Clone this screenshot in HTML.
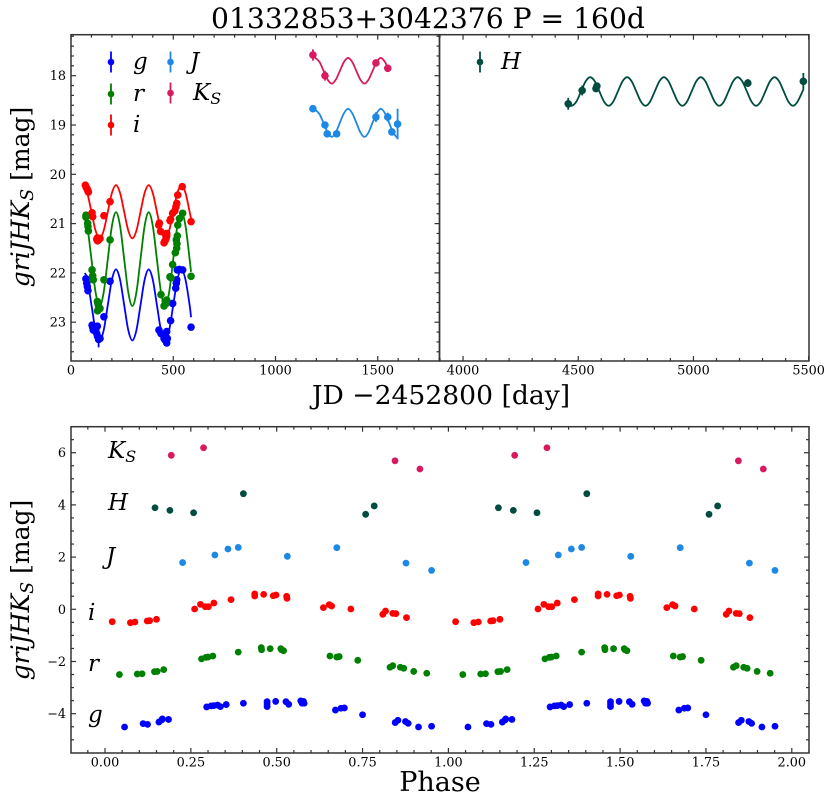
<!DOCTYPE html>
<html>
<head>
<meta charset="utf-8">
<style>
html,body{margin:0;padding:0;background:#fff;}
svg{display:block;}
text{font-family:"DejaVu Serif","Liberation Serif",serif;fill:#000;}
.i{font-style:italic;}
</style>
</head>
<body>
<svg id="fig" width="831" height="803" viewBox="0 0 831 803" xmlns="http://www.w3.org/2000/svg">
<text x="428" y="28" font-size="28.2" text-anchor="middle">01332853+3042376 P = 160d</text>
<text x="441" y="404" font-size="26.6" text-anchor="middle">JD −2452800 [day]</text>
<text x="440" y="791" font-size="27" text-anchor="middle">Phase</text>
<text transform="translate(29,197) rotate(-90)" font-size="25" text-anchor="middle"><tspan class="i">griJHK</tspan><tspan class="i" font-size="17.5" dy="4">S</tspan><tspan dy="-4"> [mag]</tspan></text>
<text transform="translate(29,590) rotate(-90)" font-size="25" text-anchor="middle"><tspan class="i">griJHK</tspan><tspan class="i" font-size="17.5" dy="4">S</tspan><tspan dy="-4"> [mag]</tspan></text>

<text class="i" x="133" y="69" font-size="23">g</text>
<text class="i" x="133" y="101" font-size="23">r</text>
<text class="i" x="133" y="132" font-size="23">i</text>
<text class="i" x="190" y="69" font-size="23">J</text>
<text class="i" x="193" y="100" font-size="23">K<tspan font-size="16" dy="4">S</tspan></text>
<text class="i" x="501" y="69" font-size="23">H</text>

<text class="i" x="108" y="458" font-size="23">K<tspan font-size="16" dy="4">S</tspan></text>
<text class="i" x="108" y="510" font-size="23">H</text>
<text class="i" x="106" y="564" font-size="23">J</text>
<text class="i" x="88" y="620" font-size="23">i</text>
<text class="i" x="88" y="671" font-size="23">r</text>
<text class="i" x="88" y="722" font-size="23">g</text>
</svg>
<script>
// ---------- light-curve observations (day, magnitude, error) ----------
const gDays = [73,77,80,83,103,106,109,114,121,129,126,130,135,142,161,191,430,440,451,455,460,468,471,468,463,487,497,512,515,517,520,530,546,587];
const gMags = [22.12,22.21,22.28,22.36,23.06,23.10,23.16,23.09,23.15,23.08,23.23,23.29,23.35,23.33,22.89,22.17,23.16,23.23,23.26,23.33,23.36,23.42,23.33,23.19,23.29,22.97,22.62,22.31,22.21,22.14,21.94,21.93,21.94,23.10];
const gErrs = [.03,.03,.03,.03,.03,.03,.03,.03,.03,.03,.03,.03,.16,.03,.03,.03,.03,.03,.03,.03,.03,.03,.03,.03,.03,.03,.03,.03,.03,.03,.03,.03,.03,.03];
const rDays = [73,73,81.5,83,85,103,106,109,161,129,132,135,142,130,191,440,455,461,465,468,484,489,497,510,517,518,515,520,522,530,546,587];
const rMags = [20.83,20.87,20.995,21.06,21.15,21.94,22.06,22.14,22.14,22.58,22.63,22.685,22.72,22.77,21.33,22.44,22.67,22.58,22.62,22.55,22.08,22.10,21.83,21.59,21.50,21.41,21.33,21.25,21.03,20.90,20.79,22.07];
const iDays = [70,75,80,83,85,103,106,161,126,130,135,142,129,191,432,429,438,455,460,465,468,468,484,487,497,508,517,513,522,544,587];
const iMags = [20.22,20.27,20.305,20.34,20.36,20.78,20.86,20.84,21.32,21.35,21.33,21.30,21.29,20.555,20.99,21.03,21.16,21.39,21.35,21.30,21.20,21.25,20.94,20.91,20.79,20.74,20.59,20.66,20.42,20.25,20.96];
const jDays = [1183,1242,1253,1299,1491,1549,1569,1597];
const jMags = [18.67,19.0,19.18,19.18,18.84,18.84,19.14,18.98];
const jErrs = [.03,.05,.03,.03,.1,.09,.03,.31];
const kDays = [1183,1242,1491,1549];
const kMags = [17.58,18.0,17.74,17.85];
const kErrs = [.115,.1,.03,.04];
const hDays = [4456.5,4517,4577,4581,5236,5477];
const hMags = [18.57,18.30,18.26,18.21,18.15,18.115];
const hErrs = [.12,.1,.07,.03,.08,.17];

// ---------- fitted curves ----------
const griCurveDays = [68,80,100,120,140,160,180,200,220,240,260,280,300,320,340,360,380,400,420,440,460,480,500,520,540,560,580,587];
const gCurve = [22.0,22.14,22.65,23.16,23.37,23.16,22.65,22.14,21.93,22.14,22.65,23.16,23.37,23.16,22.65,22.14,21.93,22.14,22.65,23.16,23.37,23.16,22.65,22.14,21.93,22.14,22.65,22.9];
const rCurve = [20.82,21.05,21.72,22.39,22.67,22.39,21.72,21.05,20.77,21.05,21.72,22.39,22.67,22.39,21.72,21.05,20.77,21.05,21.72,22.39,22.67,22.39,21.72,21.05,20.77,21.05,21.72,21.98];
const iCurve = [20.25,20.38,20.76,21.14,21.30,21.14,20.76,20.38,20.22,20.38,20.76,21.14,21.30,21.14,20.76,20.38,20.22,20.38,20.76,21.14,21.30,21.14,20.76,20.38,20.22,20.38,20.76,20.9];
const jCurveDays = [1183,1195,1215,1235,1255,1275,1295,1315,1335,1355,1375,1395,1415,1435,1455,1475,1495,1515,1535,1555,1575,1597];
const jCurve = [18.67,18.69,18.78,18.96,19.15,19.24,19.15,18.95,18.76,18.67,18.76,18.95,19.15,19.24,19.15,18.95,18.76,18.67,18.76,18.95,19.15,19.27];
const kCurveDays = [1183,1195,1215,1235,1255,1275,1295,1315,1335,1355,1375,1395,1415,1435,1455,1475,1495,1515,1535,1550];
const kCurve = [17.58,17.64,17.72,17.9,18.08,18.16,18.08,17.9,17.72,17.64,17.72,17.9,18.08,18.16,18.08,17.9,17.72,17.64,17.72,17.85];
const hCurveDays = [4456,4472,4492,4512,4532,4552,4572,4592,4612,4632,4652,4672,4692,4712,4732,4752,4772,4792,4812,4832,4852,4872,4892,4912,4932,4952,4972,4992,5012,5032,5052,5072,5092,5112,5132,5152,5172,5192,5212,5232,5252,5272,5292,5312,5332,5352,5372,5392,5412,5432,5452,5477];
const hCurve = [18.59,18.61,18.525,18.32,18.115,18.03,18.115,18.32,18.525,18.61,18.525,18.32,18.115,18.03,18.115,18.32,18.525,18.61,18.525,18.32,18.115,18.03,18.115,18.32,18.525,18.61,18.525,18.32,18.115,18.03,18.115,18.32,18.525,18.61,18.525,18.32,18.115,18.03,18.115,18.32,18.525,18.61,18.525,18.32,18.115,18.03,18.115,18.32,18.525,18.61,18.525,18.28];

// ---------- phase-folded values (0-1, repeated once) ----------
const kPhase = [.193,.287,.8445,.917];
const kFolded = [5.9,6.19,5.69,5.375];
const hPhase = [.1456,.189,.258,.403,.759,.784];
const hFolded = [3.89,3.79,3.70,4.43,3.64,3.96];
const jPhase = [.226,.320,.358,.388,.531,.675,.8765,.951];
const jFolded = [1.79,2.08,2.31,2.37,2.03,2.36,1.77,1.49];
const iPhase = [.021,.074,.087,.123,.130,.150,.261,.278,.292,.301,.317,.367,.436,.436,.462,.490,.498,.529,.530,.636,.653,.660,.716,.809,.817,.838,.847,.878];
const iFolded = [-.474,-.512,-.487,-.448,-.436,-.384,.011,.19,.10,.10,.24,.37,.59,.51,.573,.52,.548,.497,.42,.063,.18,.126,.011,-.193,-.065,-.155,-.167,-.32];
const rPhase = [.042,.094,.108,.144,.152,.171,.281,.294,.300,.314,.388,.455,.456,.481,.512,.514,.520,.655,.675,.682,.736,.830,.838,.860,.870,.899,.937];
const rFolded = [-2.50,-2.48,-2.47,-2.39,-2.38,-2.31,-1.90,-1.84,-1.83,-1.79,-1.64,-1.47,-1.55,-1.51,-1.51,-1.55,-1.585,-1.79,-1.83,-1.81,-1.955,-2.22,-2.16,-2.22,-2.26,-2.38,-2.45];
const gPhase = [.057,.111,.124,.157,.165,.167,.185,.296,.309,.317,.328,.336,.353,.403,.472,.472,.472,.497,.527,.535,.570,.574,.578,.580,.671,.687,.697,.750,.845,.853,.875,.883,.913,.951];
const gFolded = [-4.51,-4.38,-4.41,-4.32,-4.24,-4.20,-4.22,-3.74,-3.70,-3.69,-3.67,-3.73,-3.65,-3.60,-3.54,-3.63,-3.73,-3.53,-3.54,-3.64,-3.51,-3.60,-3.53,-3.60,-3.86,-3.79,-3.78,-4.04,-4.34,-4.25,-4.30,-4.37,-4.51,-4.48];

// ---------- tick labels ----------
const leftXTicks = [0,500,1000,1500];
const rightXTicks = [4000,4500,5000,5500];
const topYTicks = [18,19,20,21,22,23];
const phaseTicks = ['0.00','0.25','0.50','0.75','1.00','1.25','1.50','1.75','2.00'];
const foldedYTicks = [6,4,2,0,-2,-4];

const COLORS = {g:'#0000ff', r:'#008000', i:'#ff0000', J:'#1e88e5', H:'#004d40', K:'#d81b60'};
const AXIS = '#333333';
const svg = document.getElementById('fig');
const NS = 'http://www.w3.org/2000/svg';

// axis functions
const xLeft = d => 71 + d * 0.2045;
const xRight = d => 440 + (d - 3900) * 0.2304;
const yTop = m => 75.7 + (m - 18) * 49.3;
const xPhase = p => 105 + p * 343.4;
const yFold = m => 609.3 - m * 26.1;

function make(tag, attrs) {
  const e = document.createElementNS(NS, tag);
  for (const k in attrs) e.setAttribute(k, attrs[k]);
  svg.appendChild(e);
  return e;
}
function line(x1, y1, x2, y2, color, w, name) {
  const e = make('line', {x1, y1, x2, y2, stroke: color, 'stroke-width': w});
  
  
  return e;
}
function label(x, y, str, anchor, name) {
  const e = make('text', {x, y, 'font-size': 12.8, 'text-anchor': anchor});
  e.textContent = str;
  
  
  return e;
}
function dot(x, y, r, color, name) {
  const e = make('circle', {cx: x, cy: y, r, fill: color});
  
  
  return e;
}
function curve(days, mags, fx, fy, color, name) {
  const pts = days.map((d, i) => [fx(d), fy(mags[i])]);
  let s = 'M' + pts[0][0].toFixed(2) + ' ' + pts[0][1].toFixed(2);
  for (let i = 0; i < pts.length - 1; i++) {
    const p0 = pts[Math.max(i - 1, 0)], p1 = pts[i], p2 = pts[i + 1], p3 = pts[Math.min(i + 2, pts.length - 1)];
    const c1x = p1[0] + (p2[0] - p0[0]) / 6, c1y = p1[1] + (p2[1] - p0[1]) / 6;
    const c2x = p2[0] - (p3[0] - p1[0]) / 6, c2y = p2[1] - (p3[1] - p1[1]) / 6;
    s += 'C' + c1x.toFixed(2) + ' ' + c1y.toFixed(2) + ' ' + c2x.toFixed(2) + ' ' + c2y.toFixed(2) + ' ' + p2[0].toFixed(2) + ' ' + p2[1].toFixed(2);
  }
  const e = make('path', {d: s, fill: 'none', stroke: color, 'stroke-width': 1.8});
  
  
}
function observed(days, mags, errs, fx, color, band) {
  days.forEach((d, i) => {
    const err = Array.isArray(errs) ? errs[i] : errs;
    line(fx(d), yTop(mags[i] - err), fx(d), yTop(mags[i] + err), color, 1.8, band + '-error-bar');
    dot(fx(d), yTop(mags[i]), 3.8, color, band + '-point');
  });
}
function folded(phase, mags, color, band) {
  [0, 1].forEach(cycle => {
    phase.forEach((p, i) => {
      dot(xPhase(p + cycle), yFold(mags[i]), 3.4, color, band + '-phase-point');
    });
  });
}
function legendKey(x, y, color, band) {
  line(x, y - 10.5, x, y + 10.5, color, 1.8, 'legend-bar-' + band);
  dot(x, y, 3.3, color, 'legend-marker-' + band);
}

// ----- ticks: top left panel -----
for (let d = 0; d <= 1800; d += 100) {
  const len = d % 500 === 0 ? 5 : 3;
  line(xLeft(d), 361, xLeft(d), 361 - len, AXIS, 1.2, 'top-left-x-tick');
  line(xLeft(d), 34.7, xLeft(d), 34.7 + len, AXIS, 1.2, 'top-left-x-tick');
}
for (let d = 3900; d <= 5500; d += 100) {
  const len = d % 500 === 0 ? 5 : 3;
  line(xRight(d), 361, xRight(d), 361 - len, AXIS, 1.2, 'top-right-x-tick');
  line(xRight(d), 34.7, xRight(d), 34.7 + len, AXIS, 1.2, 'top-right-x-tick');
}
for (let t = 0; t <= 32; t++) {
  const m = 17.2 + t * 0.2;
  const len = t % 5 === 4 ? 5 : 3;
  line(71, yTop(m), 71 + len, yTop(m), AXIS, 1.2, 'top-y-tick');
  line(439.5, yTop(m), 439.5 - len, yTop(m), AXIS, 1.2, 'top-y-tick');
}
leftXTicks.forEach(d => label(xLeft(d), 374.5, String(d), 'middle', 'top-left-x-tick-label'));
rightXTicks.forEach(d => label(xRight(d), 374.5, String(d), 'middle', 'top-right-x-tick-label'));
topYTicks.forEach(m => label(66, yTop(m) + 4.5, String(m), 'end', 'top-y-tick-label'));

// ----- ticks: bottom panel -----
for (let t = -1; t <= 41; t++) {
  const p = t * 0.05;
  const len = t % 5 === 0 ? 5 : 3;
  line(xPhase(p), 753, xPhase(p), 753 - len, AXIS, 1.2, 'phase-x-tick');
  line(xPhase(p), 426.7, xPhase(p), 426.7 + len, AXIS, 1.2, 'phase-x-tick');
}
for (let t = -10; t <= 13; t++) {
  const m = t * 0.5;
  const len = t % 4 === 0 ? 5 : 3;
  line(71, yFold(m), 71 + len, yFold(m), AXIS, 1.2, 'phase-y-tick');
  line(809, yFold(m), 809 - len, yFold(m), AXIS, 1.2, 'phase-y-tick');
}
phaseTicks.forEach(s => label(xPhase(parseFloat(s)), 766.5, s, 'middle', 'phase-x-tick-label'));
foldedYTicks.forEach(m => label(66, yFold(m) + 4.5, m < 0 ? '−' + Math.abs(m) : String(m), 'end', 'phase-y-tick-label'));

// ----- curves and observations -----
curve(griCurveDays, gCurve, xLeft, yTop, COLORS.g, 'g-fit-curve');
curve(griCurveDays, rCurve, xLeft, yTop, COLORS.r, 'r-fit-curve');
curve(griCurveDays, iCurve, xLeft, yTop, COLORS.i, 'i-fit-curve');
curve(jCurveDays, jCurve, xLeft, yTop, COLORS.J, 'j-fit-curve');
curve(kCurveDays, kCurve, xLeft, yTop, COLORS.K, 'ks-fit-curve');
curve(hCurveDays, hCurve, xRight, yTop, COLORS.H, 'h-fit-curve');
observed(gDays, gMags, gErrs, xLeft, COLORS.g, 'g');
observed(rDays, rMags, 0.03, xLeft, COLORS.r, 'r');
observed(iDays, iMags, 0.03, xLeft, COLORS.i, 'i');
observed(jDays, jMags, jErrs, xLeft, COLORS.J, 'j');
observed(kDays, kMags, kErrs, xLeft, COLORS.K, 'ks');
observed(hDays, hMags, hErrs, xRight, COLORS.H, 'h');

folded(gPhase, gFolded, COLORS.g, 'g');
folded(rPhase, rFolded, COLORS.r, 'r');
folded(iPhase, iFolded, COLORS.i, 'i');
folded(jPhase, jFolded, COLORS.J, 'j');
folded(hPhase, hFolded, COLORS.H, 'h');
folded(kPhase, kFolded, COLORS.K, 'ks');

// ----- legend keys -----
legendKey(111, 62, COLORS.g, 'g');
legendKey(111, 94, COLORS.r, 'r');
legendKey(111, 125, COLORS.i, 'i');
legendKey(170.5, 62, COLORS.J, 'j');
legendKey(170.5, 93, COLORS.K, 'ks');
legendKey(480, 62, COLORS.H, 'h');

// ----- panel frames -----
const frames = [[71, 34.7, 368.5, 326.3, 'top-left-panel-frame'], [439.5, 34.7, 369.5, 326.3, 'top-right-panel-frame'], [71, 426.7, 738, 326.3, 'phase-panel-frame']];
frames.forEach(f => {
  const r = make('rect', {x: f[0], y: f[1], width: f[2], height: f[3], fill: 'none', stroke: AXIS, 'stroke-width': 1.5});
  
  
});
</script>
</body>
</html>
